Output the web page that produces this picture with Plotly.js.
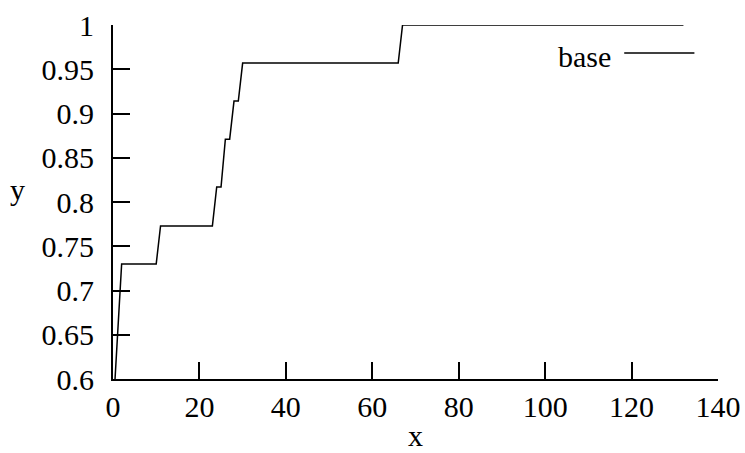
<!DOCTYPE html>
<html>
<head>
<meta charset="utf-8">
<script src="https://cdn.plot.ly/plotly-3.0.1.min.js"></script>
<style>html,body{margin:0;padding:0;background:#fff;}#chart{width:745px;height:453px;}</style>
</head>
<body>
<div id="chart"></div>
<script>
const seriesName = "base";
const xValues = [0, 2, 10, 11, 23, 24, 25, 26, 27, 28, 29, 30, 66, 67, 132];
const yValues = [0.56, 0.73, 0.73, 0.773, 0.773, 0.817, 0.817, 0.871, 0.871, 0.914, 0.914, 0.957, 0.957, 1, 1];
const xTicks = [0, 20, 40, 60, 80, 100, 120, 140];
const yTicks = [0.6, 0.65, 0.7, 0.75, 0.8, 0.85, 0.9, 0.95, 1];
const yTickLabels = ["0.6", "0.65", "0.7", "0.75", "0.8", "0.85", "0.9", "0.95", "1"];
const xTitle = "x";
const yTitle = "y";

const font = {family: "Liberation Serif, Times New Roman, serif", size: 30, color: "#000"};

const trace = {
  x: xValues, y: yValues, type: "scatter", mode: "lines", name: seriesName,
  line: {color: "#000", width: 1.5, shape: "linear"}, showlegend: false
};

const layout = {
  width: 745, height: 453,
  margin: {l: 113, r: 27, t: 25, b: 74},
  paper_bgcolor: "#fff", plot_bgcolor: "#fff",
  font: font,
  xaxis: {
    range: [0, 140], tickvals: xTicks, ticktext: xTicks.map(String),
    showgrid: false, zeroline: false, showline: true, linecolor: "#000", linewidth: 2,
    ticks: "inside", ticklen: 17, tickwidth: 2, tickcolor: "#000",
    ticklabelstandoff: 0
  },
  yaxis: {
    range: [0.6, 1], tickvals: yTicks, ticktext: yTickLabels,
    showgrid: false, zeroline: false, showline: true, linecolor: "#000", linewidth: 2,
    ticks: "inside", ticklen: 17, tickwidth: 2, tickcolor: "#000",
    ticklabelstandoff: 11
  },
  annotations: [
    {text: xTitle, xref: "paper", yref: "paper", x: 0.5, y: -0.16, xanchor: "center", yanchor: "middle", showarrow: false, font: font},
    {text: yTitle, xref: "paper", yref: "paper", x: -0.158, y: 0.535, xanchor: "center", yanchor: "middle", showarrow: false, font: font},
    {text: seriesName, xref: "paper", yref: "paper", x: 0.826, y: 0.91, xanchor: "right", yanchor: "middle", showarrow: false, font: font}
  ],
  shapes: [
    {type: "line", xref: "paper", yref: "paper", x0: 0.845, x1: 0.961, y0: 0.921, y1: 0.921, line: {color: "#000", width: 1.5}}
  ]
};

Plotly.newPlot("chart", [trace], layout, {staticPlot: true, displayModeBar: false});
</script>
</body>
</html>
